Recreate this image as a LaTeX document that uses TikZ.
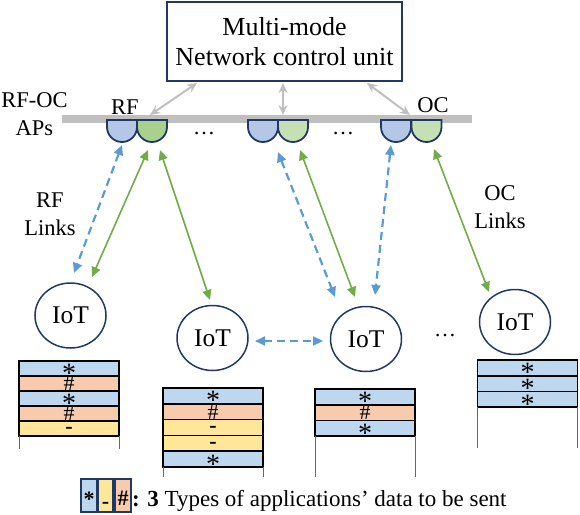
\documentclass[tikz,border=0pt]{standalone}
\usepackage{fontspec}
\setmainfont{Liberation Serif}
\usetikzlibrary{shapes.geometric,arrows.meta}

\definecolor{navy}{HTML}{203864}
\definecolor{apblue}{HTML}{B4C7E7}
\definecolor{apgreen}{HTML}{C5E0B4}
\definecolor{apgreenB}{HTML}{A9D18E}
\definecolor{rowblue}{HTML}{BDD7EE}
\definecolor{roworange}{HTML}{F8CBAD}
\definecolor{rowyellow}{HTML}{FFE699}
\definecolor{linkblue}{HTML}{5B9BD5}
\definecolor{linkgreen}{HTML}{70AD47}
\definecolor{ctrlgray}{HTML}{BFBFBF}

\newcommand{\mysymast}{\raisebox{-14pt}[0pt][0pt]{\fontsize{28}{28}\selectfont *}}
\newcommand{\mysymhash}{\raisebox{-7.3pt}[0pt][0pt]{\fontsize{22}{22}\selectfont \#}}
\newcommand{\mysymdash}{\raisebox{-5pt}[0pt][0pt]{\fontsize{22}{22}\selectfont\bfseries -}}
\newcommand{\mycup}[2]{\filldraw[apcup, fill=#2] (#1-15,120) -- (#1-15,127) arc[start angle=180, end angle=0, radius=15] -- (#1+15,120) -- cycle;}

\begin{document}
\begin{tikzpicture}[x=1pt,y=-1pt,
  every node/.style={inner sep=0pt, outer sep=0pt},
  ncu/.style={draw=navy, line width=1.8pt, fill=white, minimum width=235pt, minimum height=79pt, align=center, font=\fontsize{26}{30}\selectfont},
  lbl/.style={align=center, font=\fontsize{22.5}{28}\selectfont},
  iot/.style={ellipse, draw=navy, line width=1.5pt, fill=white, minimum width=71pt, minimum height=65pt, font=\fontsize{25.5}{30}\selectfont},
  ctrl/.style={draw=ctrlgray, line width=2pt, {Stealth[length=10pt,width=9pt]}-{Stealth[length=10pt,width=9pt]}},
  rflink/.style={draw=linkblue, line width=2.2pt, dash pattern=on 8pt off 5pt, {Triangle[length=10pt,width=9pt]}-{Triangle[length=10pt,width=9pt]}},
  oclink/.style={draw=linkgreen, line width=1.6pt, {Triangle[length=10pt,width=9pt]}-{Triangle[length=10pt,width=9pt]}},
  rowbase/.style={draw=black, line width=1.6pt, minimum width=100pt, minimum height=15.5pt},
  rowb/.style={rowbase, fill=rowblue, node contents={\mysymast}},
  rowo/.style={rowbase, fill=roworange, node contents={\mysymhash}},
  rowy/.style={rowbase, fill=rowyellow, node contents={\mysymdash}},
  ext/.style={draw=black!60, line width=0.9pt},
  apcup/.style={draw=navy, line width=1.8pt},
  legbox/.style={draw=navy, line width=1.2pt, minimum height=33pt, font=\fontsize{22}{22}\selectfont\bfseries},
  dotsl/.style={anchor=base, font=\fontsize{22}{22}\selectfont},
]
\useasboundingbox (0,0) rectangle (580,514);

% control unit
\node[ncu] (ncu) at (284.5,41.5) {Multi-mode\\Network control unit};

% AP bar
\node[fill=ctrlgray, minimum width=410pt, minimum height=8pt] (bar) at (267,119) {};

% AP cups
\mycup{122}{apblue}
\mycup{152}{apgreenB}
\mycup{263}{apblue}
\mycup{293}{apgreen}
\mycup{396}{apblue}
\mycup{426.5}{apgreen}

\node[dotsl] (dots1) at (204,134) {…};
\node[dotsl] (dots2) at (343,134) {…};

% labels
\node[lbl] (apslbl) at (34.5,114) {RF-OC\\APs};
\node[lbl] (rflbl) at (125,107) {RF};
\node[lbl] (oclbl) at (433,105) {OC};
\node[lbl] (rflinks) at (50,214) {RF\\Links};
\node[lbl] (oclinks) at (500,207.5) {OC\\Links};

% control arrows
\coordinate (c1a) at (197,83);  \coordinate (c1b) at (150,115);
\coordinate (c2a) at (283,83);  \coordinate (c2b) at (283,115);
\coordinate (c3a) at (367,83);  \coordinate (c3b) at (410,115);
\draw[ctrl] (c1a) -- (c1b);
\draw[ctrl] (c2a) -- (c2b);
\draw[ctrl] (c3a) -- (c3b);

% IoT devices
\node[iot] (iot1) at (70.5,315.5) {IoT};
\node[iot] (iot2) at (212.5,338) {IoT};
\node[iot] (iot3) at (366,339) {IoT};
\node[iot] (iot4) at (515,322) {IoT};
\node[dotsl] (dots3) at (445,336) {…};

% link end points
\coordinate (a1b) at (122,145);  \coordinate (i1b) at (74,273);
\coordinate (a1g1) at (148,150); \coordinate (i1g) at (92,277);
\coordinate (a1g2) at (160,150); \coordinate (i2g) at (210,300);
\coordinate (a2b) at (278,152);  \coordinate (i3b1) at (335,297);
\coordinate (a2g) at (300,150);  \coordinate (i3g) at (355,297);
\coordinate (a3b) at (391,145);  \coordinate (i3b2) at (375,295);
\coordinate (a3g) at (434,149);  \coordinate (i4g) at (489,292);
\coordinate (i2r) at (255,341);  \coordinate (i3l) at (323,341);

\draw[rflink] (a1b) -- (i1b);
\draw[oclink] (a1g1) -- (i1g);
\draw[oclink] (a1g2) -- (i2g);
\draw[rflink] (a2b) -- (i3b1);
\draw[oclink] (a2g) -- (i3g);
\draw[rflink] (a3b) -- (i3b2);
\draw[oclink] (a3g) -- (i4g);
\draw[rflink] (i2r) -- (i3l);

% data stacks
\foreach \t [count=\i] in {b,o,b,o,y}
  \node (sa\i) at (69,{361+15*(\i-0.5)}) [row\t, minimum height=15pt];
\draw[ext] (sa5.south west) -- ++(0,13);
\draw[ext] (sa5.south east) -- ++(0,13);

\foreach \t [count=\i] in {b,o,y,y,b}
  \node (sb\i) at (213,{388+15.8*(\i-0.5)}) [row\t, minimum height=15.8pt];
\draw[ext] (sb5.south west) -- ++(0,10);
\draw[ext] (sb5.south east) -- ++(0,10);

\foreach \t [count=\i] in {b,o,b}
  \node (sc\i) at (365,{389+15.7*(\i-0.5)}) [row\t, minimum height=15.7pt];
\draw[ext] (sc3.south west) -- ++(0,41);
\draw[ext] (sc3.south east) -- ++(0,41);

\foreach \t [count=\i] in {b,b,b}
  \node (sd\i) at (527.5,{360+15.7*(\i-0.5)}) [row\t, minimum height=15.7pt];
\draw[ext] (sd3.south west) -- ++(0,41);
\draw[ext] (sd3.south east) -- ++(0,41);

% legend
\node[legbox, fill=rowblue, minimum width=16pt] (lgb) at (89,495.5) {\raisebox{-11pt}[0pt][0pt]{*}};
\node[legbox, fill=rowyellow, minimum width=15pt] (lgy) at (105.5,495.5) {\raisebox{-12.5pt}[0pt][0pt]{-}};
\node[legbox, fill=roworange, minimum width=16pt] (lgo) at (123,495.5) {\raisebox{-9.8pt}[0pt][0pt]{\#}};
\node[anchor=base west, font=\fontsize{23}{23}\selectfont] (legtxt) at (132,506) {\textbf{: 3} Types of applications’ data to be sent};
\end{tikzpicture}
\end{document}
